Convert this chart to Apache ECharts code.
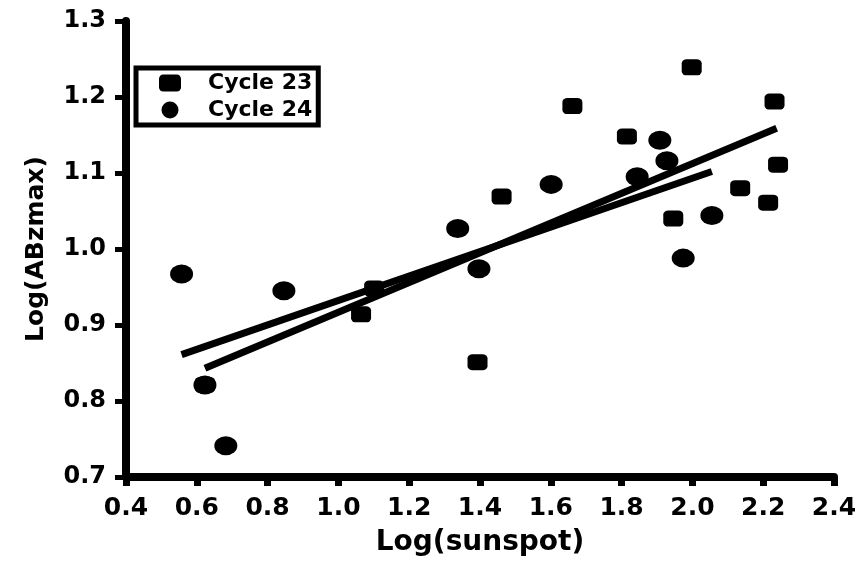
<!DOCTYPE html>
<html>
<head>
<meta charset="utf-8">
<script src="https://cdn.jsdelivr.net/npm/echarts@6/dist/echarts.min.js"></script>
<style>
    html, body { margin: 0; padding: 0; background: #fff; }
    #main { width: 863px; height: 565px; }
</style>
</head>
<body>
<div id="main"></div>
<script>
// Cycle 23 (squares): [log sunspot, log ABzmax]
var cycle23 = [
    [0.623, 0.821], [1.064, 0.914], [1.101, 0.948], [1.393, 0.851],
    [1.461, 1.069], [1.661, 1.188], [1.815, 1.148], [1.946, 1.040],
    [1.998, 1.239], [2.135, 1.080], [2.214, 1.061], [2.232, 1.194],
    [2.242, 1.111]
];
// Cycle 24 (circles)
var cycle24 = [
    [0.557, 0.967], [0.623, 0.821], [0.682, 0.741], [0.846, 0.945],
    [1.337, 1.027], [1.397, 0.974], [1.601, 1.085], [1.844, 1.095],
    [1.908, 1.143], [1.928, 1.116], [1.974, 0.988], [2.055, 1.044]
];
// fitted lines (end points)
var fit23 = [[0.623, 0.843], [2.238, 1.159]];
var fit24 = [[0.557, 0.861], [2.055, 1.102]];

var legendNames = ['Cycle 23', 'Cycle 24'];
var xRange = [0.4, 2.4, 0.2];
var yRange = [0.7, 1.3, 0.1];

var font = 'DejaVu Sans';
var myChart = echarts.init(document.getElementById('main'));

var option = {
    backgroundColor: '#fff',
    animation: false,
    grid: {
        left: 126,
        right: 29,
        top: 21,
        bottom: 88
    },
    legend: {
        orient: 'vertical',
        left: 136,
        top: 68,
        data: [
            { name: legendNames[0], icon: 'roundRect' },
            { name: legendNames[1], icon: 'circle' }
        ],
        itemWidth: 22,
        itemHeight: 17,
        itemGap: 5,
        padding: [4, 6, 4, 23],
        borderColor: '#000',
        borderWidth: 5,
        textStyle: {
            color: '#000',
            fontFamily: font,
            fontWeight: 'bold',
            fontSize: 22,
            padding: [0, 0, 0, 22]
        }
    },
    xAxis: {
        type: 'value',
        min: xRange[0],
        max: xRange[1],
        interval: xRange[2],
        name: 'Log(sunspot)',
        nameLocation: 'middle',
        nameGap: 52,
        nameTextStyle: {
            color: '#000',
            fontFamily: font,
            fontWeight: 'bold',
            fontSize: 28
        },
        splitLine: { show: false },
        axisLine: { lineStyle: { color: '#000', width: 8 } },
        axisTick: { length: 9, lineStyle: { color: '#000', width: 7 } },
        axisLabel: {
            margin: 19,
            color: '#000',
            fontFamily: font,
            fontWeight: 'bold',
            fontSize: 25,
            formatter: function (v) { return v.toFixed(1); }
        }
    },
    yAxis: {
        type: 'value',
        min: yRange[0],
        max: yRange[1],
        interval: yRange[2],
        name: 'Log(ABzmax)',
        nameLocation: 'middle',
        nameGap: 77,
        nameTextStyle: {
            color: '#000',
            fontFamily: font,
            fontWeight: 'bold',
            fontSize: 25
        },
        splitLine: { show: false },
        axisLine: { lineStyle: { color: '#000', width: 8 } },
        axisTick: { length: 11, lineStyle: { color: '#000', width: 5 } },
        axisLabel: {
            margin: 20,
            color: '#000',
            fontFamily: font,
            fontWeight: 'bold',
            fontSize: 24,
            formatter: function (v) { return v.toFixed(1); }
        }
    },
    series: [
        {
            type: 'line',
            data: fit23,
            symbol: 'none',
            silent: true,
            lineStyle: { color: '#000', width: 7 }
        },
        {
            type: 'line',
            data: fit24,
            symbol: 'none',
            silent: true,
            lineStyle: { color: '#000', width: 7 }
        },
        {
            name: legendNames[0],
            type: 'scatter',
            data: cycle23,
            symbol: 'roundRect',
            symbolSize: [20, 16],
            itemStyle: { color: '#000', opacity: 1 }
        },
        {
            name: legendNames[1],
            type: 'scatter',
            data: cycle24,
            symbol: 'circle',
            symbolSize: [23, 19],
            itemStyle: { color: '#000', opacity: 1 }
        }
    ]
};
myChart.setOption(option);
</script>
</body>
</html>
